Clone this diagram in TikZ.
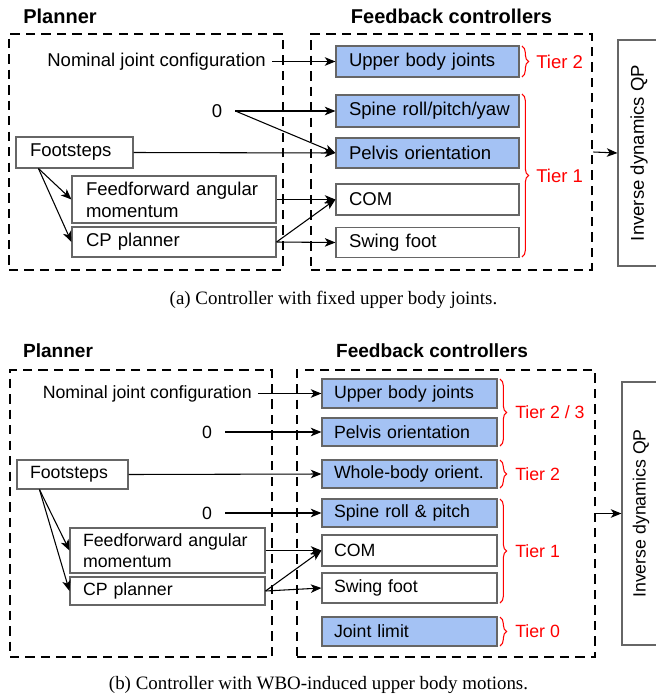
\documentclass[tikz,border=0pt]{standalone}
\usepackage{fontspec}
\setmainfont{Liberation Sans}
\newfontfamily\capfont{Liberation Serif}
\usetikzlibrary{arrows.meta,decorations.pathreplacing}
\definecolor{ctrlblue}{HTML}{A4C2F4}
\definecolor{boxgray}{HTML}{666666}
\definecolor{tierred}{HTML}{FF0000}

\tikzset{
  fontA/.style={font=\fontsize{13.9}{16.6}\selectfont},
  fontB/.style={font=\fontsize{13.3}{16.0}\selectfont},
  block/.style={draw=boxgray, line width=0.8pt, rectangle, inner ysep=0pt, align=left},
  ctrl/.style={block, fill=ctrlblue},
  plain/.style={block, fill=white},
  group/.style={draw=black, line width=2.1pt, dash pattern=on 7pt off 4.6pt, rectangle, inner sep=0pt},
  qpbox/.style={draw=boxgray, line width=0.8pt, rectangle, inner sep=0pt},
  arr/.style={-{Stealth[length=8pt,width=6.4pt,inset=2.2pt]}, line width=0.8pt, black},
  tierbrace/.style={draw=tierred, line width=0.8pt, decoration={brace, amplitude=5pt}, decorate},
  tier/.style={text=tierred, anchor=west, inner sep=0pt},
  heading/.style={font=\bfseries\fontsize{15}{18}\selectfont},
  caption/.style={font=\capfont\fontsize{14.2}{17}\selectfont},
}

\begin{document}
\begin{tikzpicture}[x=0.75pt, y=-0.75pt]
\useasboundingbox (0,0) rectangle (656,700);

% ---------------- (a) fixed upper body joints ----------------
\begin{scope}[fontA]
\node[heading] (titlePA) at (60,16) {Planner};
\node[heading] (titleFA) at (451.5,16) {Feedback controllers};

\node[group, minimum width=205.5pt, minimum height=177pt] (planA) at (146,152) {};
\node[group, minimum width=210.75pt, minimum height=177pt] (fbA) at (451.5,152) {};
\node[qpbox, minimum width=31.5pt, minimum height=169.5pt] (qpA) at (639,153)
  {\rotatebox{90}{Inverse dynamics QP}};

% feedback tasks
\node[ctrl, text width=117.75pt, inner xsep=9.75pt, minimum height=23.25pt] (ubjA) at (427.5,61.5) {Upper body joints};
\node[ctrl, text width=117.75pt, inner xsep=9.75pt, minimum height=24pt] (spineA) at (427.5,111) {\mbox{Spine roll/pitch/yaw}};
\node[ctrl, text width=117.75pt, inner xsep=9.75pt, minimum height=22.5pt] (pelvA) at (427.5,153) {Pelvis orientation};
\node[plain, text width=117.75pt, inner xsep=9.75pt, minimum height=23.25pt] (comA) at (427.5,199.5) {COM};
\node[plain, text width=117.75pt, inner xsep=9.75pt, minimum height=22.5pt] (swingA) at (427.5,242.5) {Swing foot};

% priority tiers
\draw[tierbrace] (522,46) -- (522,77);
\node[tier] (t2A) at (536,62) {Tier 2};
\draw[tierbrace] (522,94) -- (522,257);
\node[tier] (t1A) at (536,175.5) {Tier 1};

% planner
\node[plain, text width=66.75pt, inner xsep=10.5pt, minimum height=23.25pt] (footA) at (74.5,152.5) {Footsteps};
\node[plain, text width=132pt, inner xsep=10.5pt, minimum height=35.25pt] (ffA) at (174,199.5) {Feedforward angular\\momentum};
\node[plain, text width=132pt, inner xsep=10.5pt, minimum height=22.5pt] (cpA) at (174,242) {CP planner};

\node[anchor=east, inner xsep=4.5pt] (nomA) at (272,61.5) {Nominal joint configuration};
\node[inner xsep=9.75pt] (zeroA) at (217,111) {0};

% connectors
\draw[arr] (nomA.east) -- (ubjA.west);
\draw[arr] (zeroA.east) -- (spineA.west);
\draw[arr] (zeroA.east) -- (pelvA.west);
\draw[arr] (footA.east) -- (pelvA.west);
\draw[arr] ([xshift=17.25pt]footA.south west) -- (ffA.west);
\draw[arr] ([xshift=17.25pt]footA.south west) -- (cpA.west);
\draw[arr] (ffA.east) -- (comA.west);
\draw[arr] (cpA.east) -- (comA.west);
\draw[arr] (cpA.east) -- (swingA.west);
\draw[arr] (fbA.east) -- (qpA.west);

\node[caption] (capA) at (333.5,300) {(a) Controller with fixed upper body joints.};
\end{scope}

% ---------------- (b) WBO-induced upper body motions ----------------
\begin{scope}[fontB]
\node[heading, font=\bfseries\fontsize{14.3}{17}\selectfont] (titlePB) at (58,351) {Planner};
\node[heading, font=\bfseries\fontsize{14.3}{17}\selectfont] (titleFB) at (432,351) {Feedback controllers};

\node[group, minimum width=196.5pt, minimum height=215.25pt] (planB) at (141,513.5) {};
\node[group, minimum width=223.5pt, minimum height=215.25pt] (fbB) at (446,513.5) {};
\node[qpbox, minimum width=28.5pt, minimum height=197.25pt] (qpB) at (641,513.5)
  {\rotatebox{90}{Inverse dynamics QP}};

% feedback tasks
\node[ctrl, text width=113.25pt, inner xsep=9pt, minimum height=21.75pt] (ubjB) at (409.5,393.5) {Upper body joints};
\node[ctrl, text width=113.25pt, inner xsep=9pt, minimum height=21pt] (pelvB) at (409.5,432) {Pelvis orientation};
\node[ctrl, text width=113.25pt, inner xsep=9pt, minimum height=21pt] (wboB) at (409.5,474) {Whole-body orient.};
\node[ctrl, text width=113.25pt, inner xsep=9pt, minimum height=21pt] (spineB) at (409.5,513) {Spine roll \& pitch};
\node[plain, text width=113.25pt, inner xsep=9pt, minimum height=23.25pt] (comB) at (409.5,550.5) {COM};
\node[plain, text width=113.25pt, inner xsep=9pt, minimum height=22.5pt] (swingB) at (409.5,588) {Swing foot};
\node[ctrl, text width=113.25pt, inner xsep=9pt, minimum height=21.75pt] (jlB) at (409.5,631.5) {Joint limit};

% priority tiers
\draw[tierbrace] (500,379) -- (500,446);
\node[tier] (t23B) at (515,412.5) {Tier 2 / 3};
\draw[tierbrace] (500,460) -- (500,488);
\node[tier] (t2B) at (515,474) {Tier 2};
\draw[tierbrace] (500,499) -- (500,603);
\node[tier] (t1B) at (515,551) {Tier 1};
\draw[tierbrace] (500,617) -- (500,646);
\node[tier] (t0B) at (515,631.5) {Tier 0};

% planner
\node[plain, text width=63.75pt, inner xsep=9.75pt, minimum height=21.75pt] (footB) at (72.5,474.5) {Footsteps};
\node[plain, text width=126.75pt, inner xsep=9.75pt, minimum height=33.75pt] (ffB) at (167.5,550.5) {Feedforward angular\\momentum};
\node[plain, text width=126.75pt, inner xsep=9.75pt, minimum height=21pt] (cpB) at (167.5,591) {CP planner};

\node[anchor=east, inner xsep=4.5pt] (nomB) at (258,393.5) {Nominal joint configuration};
\node[inner xsep=9.75pt] (zeroB1) at (207,432) {0};
\node[inner xsep=9.75pt] (zeroB2) at (207,513) {0};

% connectors
\draw[arr] (nomB.east) -- (ubjB.west);
\draw[arr] (zeroB1.east) -- (pelvB.west);
\draw[arr] (footB.east) -- (wboB.west);
\draw[arr] (zeroB2.east) -- (spineB.west);
\draw[arr] ([xshift=17.25pt]footB.south west) -- (ffB.west);
\draw[arr] ([xshift=17.25pt]footB.south west) -- (cpB.west);
\draw[arr] (ffB.east) -- (comB.west);
\draw[arr] (cpB.east) -- (comB.west);
\draw[arr] (cpB.east) -- (swingB.west);
\draw[arr] (fbB.east) -- (qpB.west);

\node[caption] (capB) at (318.5,685) {(b) Controller with WBO-induced upper body motions.};
\end{scope}
\end{tikzpicture}
\end{document}
